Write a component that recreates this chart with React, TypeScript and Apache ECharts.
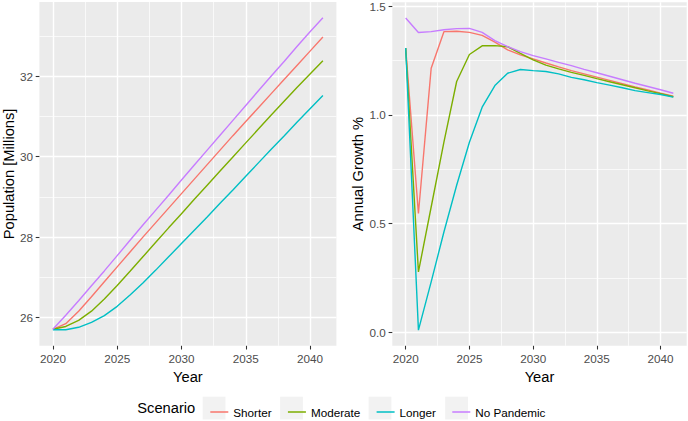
import React, { useEffect, useRef } from "react";
import * as echarts from "echarts";

const years = [2020, 2021, 2022, 2023, 2024, 2025, 2026, 2027, 2028, 2029, 2030, 2031, 2032, 2033, 2034, 2035, 2036, 2037, 2038, 2039, 2040, 2041];

const scenarios = ["Shorter", "Moderate", "Longer", "No Pandemic"];
const colors = ["#F8766D", "#7CAE00", "#00BFC4", "#C77CFF"];

const popShorter = [25.71, 25.85, 26.16, 26.52, 26.89, 27.26, 27.63, 28.0, 28.36, 28.72, 29.08, 29.44, 29.8, 30.16, 30.52, 30.87, 31.22, 31.57, 31.92, 32.27, 32.62, 32.97];
const popModerate = [25.71, 25.78, 25.93, 26.16, 26.46, 26.8, 27.15, 27.51, 27.87, 28.23, 28.58, 28.94, 29.29, 29.64, 29.99, 30.34, 30.69, 31.04, 31.38, 31.72, 32.05, 32.38];
const popLonger = [25.7, 25.7, 25.76, 25.88, 26.05, 26.28, 26.56, 26.86, 27.18, 27.51, 27.84, 28.17, 28.5, 28.84, 29.17, 29.51, 29.85, 30.19, 30.52, 30.86, 31.19, 31.52];
const popNoPandemic = [25.71, 26.06, 26.42, 26.79, 27.16, 27.54, 27.92, 28.3, 28.67, 29.04, 29.42, 29.79, 30.16, 30.53, 30.9, 31.27, 31.64, 32.01, 32.37, 32.74, 33.1, 33.45];

const growthShorter = [1.307, 0.546, 1.214, 1.382, 1.384, 1.379, 1.365, 1.334, 1.298, 1.275, 1.257, 1.238, 1.22, 1.203, 1.188, 1.173, 1.158, 1.143, 1.128, 1.114, 1.099, 1.085];
const growthModerate = [1.307, 0.278, 0.576, 0.874, 1.153, 1.277, 1.317, 1.318, 1.313, 1.282, 1.252, 1.228, 1.211, 1.195, 1.181, 1.166, 1.152, 1.138, 1.124, 1.11, 1.097, 1.083];
const growthLonger = [1.307, 0.01, 0.232, 0.461, 0.676, 0.874, 1.035, 1.134, 1.191, 1.208, 1.203, 1.199, 1.188, 1.172, 1.161, 1.148, 1.136, 1.124, 1.111, 1.102, 1.093, 1.081];
const growthNoPandemic = [1.445, 1.378, 1.382, 1.391, 1.396, 1.397, 1.379, 1.341, 1.313, 1.29, 1.272, 1.257, 1.241, 1.226, 1.209, 1.193, 1.177, 1.161, 1.145, 1.13, 1.115, 1.099];

const xTicks = [2020, 2025, 2030, 2035, 2040];
const xMinor = [2022.5, 2027.5, 2032.5, 2037.5];
const popTicks = [26, 28, 30, 32];
const popMinor = [27, 29, 31, 33];
const growthTicks = [0, 0.5, 1.0, 1.5];
const growthMinor = [0.25, 0.75, 1.25];

const FONT = "'Liberation Sans', Arial, sans-serif";

export default function App() {
  const ref = useRef<HTMLDivElement>(null);

  useEffect(() => {
    if (!ref.current) return;
    const chart = echarts.init(ref.current, null, { renderer: "svg" });

    const popSeries = [popShorter, popModerate, popLonger, popNoPandemic];
    const growthSeries = [growthShorter, growthModerate, growthLonger, growthNoPandemic];

    const mainX = (gridIndex: number) => ({
      type: "value",
      gridIndex,
      position: "bottom",
      min: 2018.95,
      max: 2042.05,
      name: "Year",
      nameLocation: "middle",
      nameGap: 20.5,
      nameTextStyle: { fontSize: 14.7, color: "#000000", fontFamily: FONT },
      axisLine: { show: false, onZero: false },
      axisTick: { show: true, customValues: xTicks, length: 3.7, lineStyle: { color: "#333333", width: 1.07 } },
      axisLabel: {
        customValues: xTicks,
        margin: 6.5,
        color: "#4D4D4D",
        fontSize: 11.7,
        fontFamily: FONT,
        formatter: (v: number) => String(v),
      },
      splitLine: { show: true, lineStyle: { color: "#FFFFFF", width: 1.4 } },
    });

    const minorX = (gridIndex: number) => ({
      type: "value",
      gridIndex,
      position: "bottom",
      min: 2018.95,
      max: 2042.05,
      axisLine: { show: false, onZero: false },
      axisTick: { show: false, customValues: xMinor },
      axisLabel: { show: false, customValues: xMinor },
      splitLine: { show: true, lineStyle: { color: "#FFFFFF", width: 0.7 } },
    });

    const mainY = (gridIndex: number, min: number, max: number, ticks: number[], name: string, gap: number, fmt: (v: number) => string) => ({
      type: "value",
      gridIndex,
      position: "left",
      min,
      max,
      name,
      nameLocation: "middle",
      nameGap: gap,
      nameTextStyle: { fontSize: 14.7, color: "#000000", fontFamily: FONT },
      axisLine: { show: false, onZero: false },
      axisTick: { show: true, customValues: ticks, length: 3.7, lineStyle: { color: "#333333", width: 1.07 } },
      axisLabel: { customValues: ticks, margin: 6.5, color: "#4D4D4D", fontSize: 11.7, fontFamily: FONT, formatter: fmt },
      splitLine: { show: true, lineStyle: { color: "#FFFFFF", width: 1.4 } },
    });

    const minorY = (gridIndex: number, min: number, max: number, ticks: number[]) => ({
      type: "value",
      gridIndex,
      position: "left",
      min,
      max,
      axisLine: { show: false, onZero: false },
      axisTick: { show: false, customValues: ticks },
      axisLabel: { show: false, customValues: ticks },
      splitLine: { show: true, lineStyle: { color: "#FFFFFF", width: 0.7 } },
    });

    const series: any[] = [];
    scenarios.forEach((name, i) => {
      series.push({
        name,
        type: "line",
        xAxisIndex: 0,
        yAxisIndex: 0,
        symbol: "none",
        showSymbol: false,
        color: colors[i],
        lineStyle: { width: 1.4, color: colors[i] },
        data: years.map((y, k) => [y, popSeries[i][k]]),
        z: 3,
      });
    });
    scenarios.forEach((name, i) => {
      series.push({
        name,
        type: "line",
        xAxisIndex: 1,
        yAxisIndex: 1,
        symbol: "none",
        showSymbol: false,
        color: colors[i],
        lineStyle: { width: 1.4, color: colors[i] },
        data: years.map((y, k) => [y, growthSeries[i][k]]),
        z: 3,
      });
    });

    const keyX = [202.7, 280.1, 368.6, 445.2];

    chart.setOption({
      animation: false,
      backgroundColor: "#FFFFFF",
      textStyle: { fontFamily: FONT },
      grid: [
        { left: 39.2, top: 2, width: 297.2, height: 343.8, show: true, backgroundColor: "#EBEBEB", borderWidth: 0 },
        { left: 392.3, top: 2, width: 294.4, height: 343.8, show: true, backgroundColor: "#EBEBEB", borderWidth: 0 },
      ],
      xAxis: [mainX(0), mainX(1), minorX(0), minorX(1)],
      yAxis: [
        mainY(0, 25.3, 33.84, popTicks, "Population [Millions]", 22, (v: number) => String(v)),
        mainY(1, -0.062, 1.517, growthTicks, "Annual Growth %", 26.5, (v: number) => v.toFixed(1)),
        minorY(0, 25.3, 33.84, popMinor),
        minorY(1, -0.062, 1.517, growthMinor),
      ],
      legend: {
        show: true,
        data: scenarios,
        orient: "horizontal",
        left: 205.3,
        top: 401,
        icon: "rect",
        itemWidth: 18,
        itemHeight: 1.5,
        itemGap: 16.3,
        selectedMode: false,
        itemStyle: { borderWidth: 0 },
        textStyle: { fontSize: 11.7, color: "#000000", fontFamily: FONT },
      },
      graphic: [
        ...keyX.map((x) => ({
          type: "rect",
          z: -1,
          shape: { x, y: 396.7, width: 22.8, height: 22.8 },
          style: { fill: "#F2F2F2" },
        })),
        {
          type: "text",
          x: 137.3,
          y: 408,
          style: {
            text: "Scenario",
            fontSize: 14.7,
            fontFamily: FONT,
            fill: "#000000",
            verticalAlign: "middle",
            align: "left",
          },
        },
      ],
      series,
    });

    return () => chart.dispose();
  }, []);

  return <div ref={ref} style={{ position: "absolute", left: 0, top: 0, width: 688, height: 421 }} />;
}
